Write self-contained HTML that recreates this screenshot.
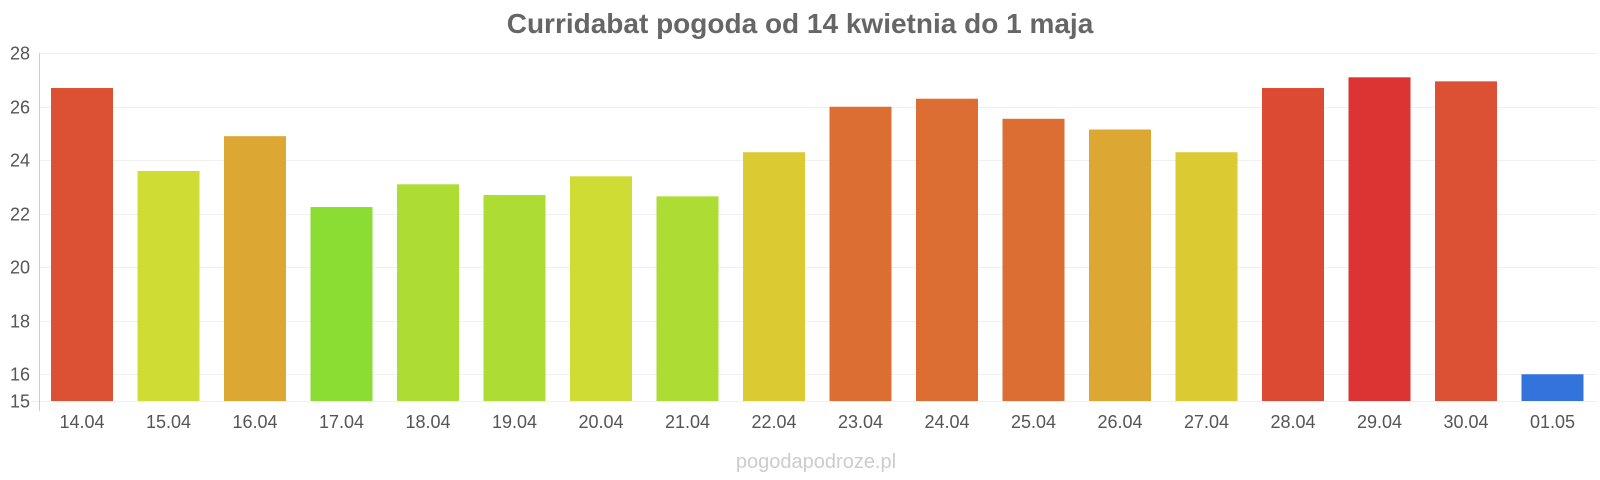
<!DOCTYPE html>
<html><head><meta charset="utf-8"><style>body{margin:0;background:#fff}svg{display:block}</style></head>
<body>
<svg width="1600" height="480" xmlns="http://www.w3.org/2000/svg" font-family="Liberation Sans, Arial, sans-serif">
<rect width="1600" height="480" fill="#fff"/>
<text x="800" y="33" text-anchor="middle" font-size="28" font-weight="bold" fill="#666">Curridabat pogoda od 14 kwietnia do 1 maja</text>
<g stroke="#f0f0f0" stroke-width="1" id="grid"></g>
<line x1="39.5" x2="39.5" y1="53" y2="411" stroke="#ccc"/>
<g font-size="18" fill="#555" text-anchor="end" id="yl"></g>
<g id="bars"></g>
<g id="labels" font-size="18" fill="#555" text-anchor="middle"></g>
<text x="816" y="468" text-anchor="middle" font-size="20" fill="#ccc">pogodapodroze.pl</text>
<script>
var ns="http://www.w3.org/2000/svg";
function Y(v){return 401-(v-15)*26.75;}
var g=document.getElementById("grid"),yl=document.getElementById("yl");
[28,26,24,22,20,18,16,15].forEach(function(k){var y=Math.round(Y(k))+0.5;
var ln=document.createElementNS(ns,"line");ln.setAttribute("x1",k==15?31:39);ln.setAttribute("x2",1597);ln.setAttribute("y1",y);ln.setAttribute("y2",y);g.appendChild(ln);
var t=document.createElementNS(ns,"text");t.setAttribute("x",30);t.setAttribute("y",y+6);t.textContent=k;yl.appendChild(t);});
var v=[26.7,23.6,24.9,22.25,23.1,22.7,23.4,22.65,24.3,26,26.3,25.55,25.15,24.3,26.7,27.1,26.95,16];
var c=["#dc5033","#cfdc33","#dca833","#8bdc33","#addc33","#addc33","#cfdc33","#addc33","#dcca33","#dc6e33","#dc6e33","#dc6e33","#dca833","#dcca33","#dc4a33","#dc3333","#dc5033","#3373dc"];
var l=["14.04","15.04","16.04","17.04","18.04","19.04","20.04","21.04","22.04","23.04","24.04","25.04","26.04","27.04","28.04","29.04","30.04","01.05"];
var b=document.getElementById("bars"),t=document.getElementById("labels");
for(var i=0;i<18;i++){var cx=82+i*86.5,y=Y(v[i]);
var r=document.createElementNS(ns,"rect");r.setAttribute("x",cx-31);r.setAttribute("y",y);r.setAttribute("width",62);r.setAttribute("height",401-y);r.setAttribute("fill",c[i]);b.appendChild(r);
var x=document.createElementNS(ns,"text");x.setAttribute("x",cx);x.setAttribute("y",428);x.textContent=l[i];t.appendChild(x);}
</script>
</svg>
</body></html>
